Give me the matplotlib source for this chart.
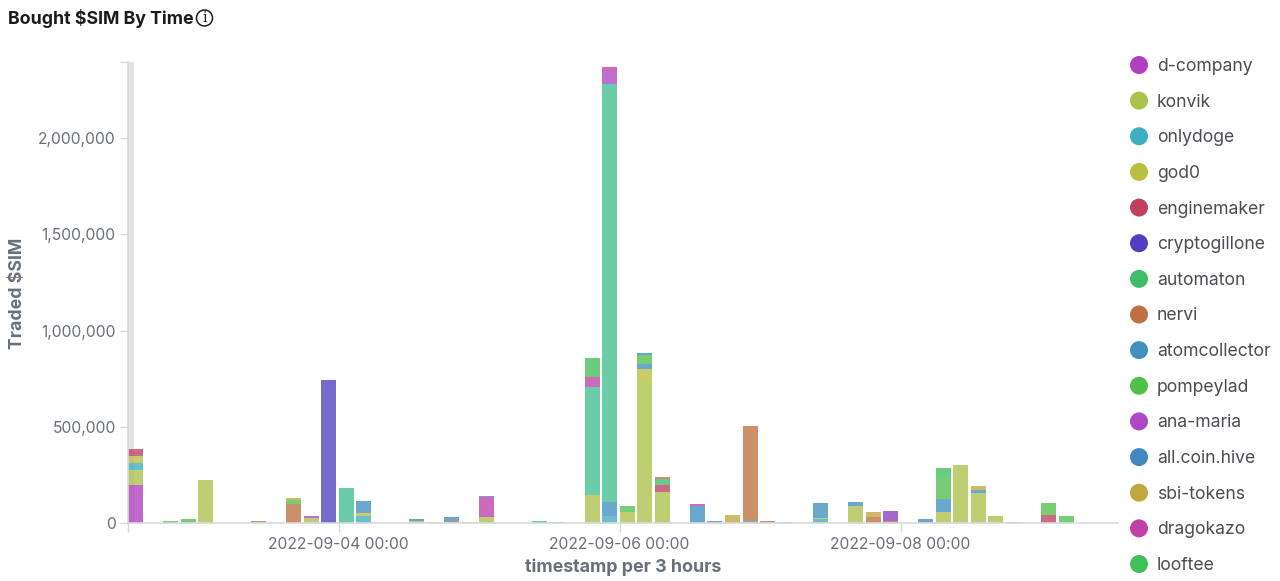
import matplotlib
matplotlib.use('Agg')
import matplotlib.pyplot as plt
import matplotlib.dates as mdates
import numpy as np
import pandas as pd
from matplotlib.patches import Circle

plt.rcParams['font.family'] = ['Inter', 'DejaVu Sans']

# bars that are present (3 hour buckets)
bar_times = [
    '2022-09-02 12:00', '2022-09-02 18:00', '2022-09-02 21:00', '2022-09-03 00:00', '2022-09-03 09:00',
    '2022-09-03 15:00', '2022-09-03 18:00', '2022-09-03 21:00', '2022-09-04 00:00', '2022-09-04 03:00',
    '2022-09-04 12:00', '2022-09-04 15:00', '2022-09-04 18:00', '2022-09-04 21:00', '2022-09-05 00:00',
    '2022-09-05 09:00', '2022-09-05 12:00', '2022-09-05 18:00', '2022-09-05 21:00', '2022-09-06 00:00',
    '2022-09-06 03:00', '2022-09-06 06:00', '2022-09-06 12:00', '2022-09-06 15:00', '2022-09-06 18:00',
    '2022-09-06 21:00', '2022-09-07 00:00', '2022-09-07 03:00', '2022-09-07 09:00', '2022-09-07 15:00',
    '2022-09-07 18:00', '2022-09-07 21:00', '2022-09-08 03:00', '2022-09-08 06:00', '2022-09-08 09:00',
    '2022-09-08 12:00', '2022-09-08 15:00', '2022-09-08 18:00', '2022-09-09 00:00', '2022-09-09 03:00',
]

# values in thousands of $SIM, one row of ten per line
d_company = [197, 0, 0, 0, 0, 0, 0, 0, 0, 0,
             0, 0, 0, 0, 0, 0, 0, 0, 0, 0,
             0, 0, 0, 0, 0, 0, 0, 0, 0, 0,
             0, 0, 0, 0, 0, 0, 0, 0, 0, 0]
konvik = [76, 0, 0, 222, 4, 0, 28, 0, 0, 0,
          10, 7, 6, 7, 33, 0, 0, 145, 0, 55,
          731, 159, 0, 0, 0, 0, 5, 0, 0, 90,
          0, 0, 0, 57, 301, 154, 35, 0, 0, 0]
onlydoge = [41, 0, 0, 0, 0, 0, 0, 0, 0, 35,
            0, 0, 0, 0, 0, 0, 0, 0, 38, 0,
            0, 0, 0, 0, 0, 12, 0, 0, 19, 0,
            0, 0, 0, 0, 0, 0, 0, 0, 0, 0]
god0 = [35, 0, 0, 0, 0, 0, 0, 0, 0, 16,
        0, 0, 0, 0, 0, 0, 0, 0, 0, 0,
        69, 0, 0, 0, 0, 0, 0, 0, 5, 0,
        0, 0, 0, 0, 0, 0, 0, 0, 0, 0]
enginemaker = [35, 0, 0, 0, 0, 0, 0, 0, 0, 0,
               0, 0, 0, 0, 0, 0, 0, 0, 0, 0,
               0, 40, 0, 0, 0, 0, 0, 0, 0, 0,
               0, 0, 0, 0, 0, 0, 0, 0, 40, 0]
cryptogillone = [0, 0, 0, 0, 0, 0, 0, 741, 0, 0,
                 0, 0, 0, 0, 0, 0, 0, 0, 0, 0,
                 0, 0, 0, 0, 0, 0, 0, 0, 0, 0,
                 0, 0, 0, 0, 0, 0, 0, 0, 0, 0]
automaton = [0, 0, 0, 0, 0, 0, 0, 0, 0, 0,
             0, 0, 0, 0, 0, 0, 0, 0, 0, 0,
             0, 31, 0, 0, 0, 0, 0, 0, 0, 0,
             0, 0, 0, 0, 0, 0, 0, 0, 0, 0]
nervi = [0, 0, 0, 0, 4, 97, 0, 0, 0, 0,
         0, 0, 6, 0, 0, 0, 0, 0, 0, 0,
         0, 10, 0, 6, 0, 490, 5, 0, 0, 0,
         29, 10, 0, 0, 0, 0, 0, 0, 0, 0]
atomcollector = [0, 0, 0, 0, 0, 0, 0, 0, 0, 61,
                 0, 0, 17, 0, 0, 0, 0, 0, 69, 0,
                 26, 0, 87, 6, 0, 0, 0, 0, 81, 17,
                 0, 0, 19, 68, 0, 19, 0, 0, 0, 0]
pompeylad = [0, 10, 22, 0, 0, 21, 0, 0, 0, 0,
             0, 0, 0, 0, 0, 0, 0, 0, 0, 35,
             48, 0, 0, 0, 0, 0, 0, 0, 0, 0,
             0, 0, 0, 105, 0, 0, 0, 0, 66, 38]
ana_maria = [0, 0, 0, 0, 0, 0, 10, 0, 0, 0,
             0, 0, 0, 0, 0, 0, 0, 0, 60, 0,
             0, 0, 0, 0, 0, 0, 0, 0, 0, 0,
             0, 0, 0, 0, 0, 0, 0, 0, 0, 0]
all_coin_hive = [0, 0, 0, 0, 0, 0, 0, 0, 0, 0,
                 12, 0, 0, 0, 7, 0, 0, 0, 0, 0,
                 7, 0, 0, 0, 0, 0, 0, 0, 0, 0,
                 0, 0, 0, 0, 0, 0, 0, 0, 0, 0]
sbi_tokens = [0, 0, 0, 0, 0, 10, 0, 0, 0, 0,
              0, 0, 0, 0, 0, 0, 0, 0, 0, 0,
              0, 0, 0, 0, 43, 0, 0, 0, 0, 0,
              26, 0, 0, 0, 0, 17, 0, 0, 0, 0]
dragokazo = [0, 0, 0, 0, 0, 0, 0, 0, 0, 0,
             0, 0, 0, 0, 100, 0, 0, 52, 26, 0,
             0, 0, 10, 0, 0, 0, 0, 0, 0, 0,
             0, 0, 0, 0, 0, 0, 0, 0, 0, 0]
looftee = [0, 0, 0, 0, 0, 0, 0, 0, 0, 0,
           0, 0, 0, 0, 0, 0, 0, 100, 0, 0,
           0, 0, 0, 0, 0, 0, 0, 0, 0, 0,
           0, 0, 0, 54, 0, 0, 0, 0, 0, 0]
# series scrolled out of the legend in the reference
unlisted_teal = [0, 0, 0, 0, 0, 0, 0, 0, 180, 0,
                 0, 0, 0, 0, 0, 8, 3, 559, 2175, 0,
                 0, 0, 0, 0, 0, 0, 0, 5, 0, 0,
                 0, 0, 0, 0, 0, 0, 0, 5, 0, 0]
unlisted_purple = [0, 0, 0, 0, 0, 0, 0, 0, 0, 0,
                   0, 0, 0, 0, 0, 0, 0, 0, 0, 0,
                   0, 0, 0, 0, 0, 0, 0, 0, 0, 0,
                   0, 50, 0, 0, 0, 0, 0, 0, 0, 0]

legend_names = ['d-company', 'konvik', 'onlydoge', 'god0', 'enginemaker', 'cryptogillone', 'automaton', 'nervi',
                'atomcollector', 'pompeylad', 'ana-maria', 'all.coin.hive', 'sbi-tokens', 'dragokazo', 'looftee']
colors = {'d-company': '#B03FC0', 'konvik': '#ABC24B', 'onlydoge': '#3FAEC0', 'god0': '#BBBE3F',
          'enginemaker': '#C04060', 'cryptogillone': '#5040C0', 'automaton': '#3DBD68', 'nervi': '#C07040',
          'atomcollector': '#4090C0', 'pompeylad': '#50C04A', 'ana-maria': '#AE47C6', 'all.coin.hive': '#4088C0',
          'sbi-tokens': '#C0A840', 'dragokazo': '#C040A8', 'looftee': '#40C058',
          'unlisted_teal': '#40C090', 'unlisted_purple': '#8A3CC4'}

# bottom to top
stack = [('d-company', d_company), ('konvik', konvik), ('onlydoge', onlydoge), ('god0', god0),
         ('enginemaker', enginemaker), ('cryptogillone', cryptogillone), ('automaton', automaton), ('nervi', nervi),
         ('atomcollector', atomcollector), ('pompeylad', pompeylad), ('sbi-tokens', sbi_tokens),
         ('unlisted_purple', unlisted_purple), ('unlisted_teal', unlisted_teal), ('ana-maria', ana_maria),
         ('dragokazo', dragokazo), ('all.coin.hive', all_coin_hive), ('looftee', looftee)]

W, H = 1280, 581
fig = plt.figure(figsize=(W / 100, H / 100), dpi=100, facecolor='white')
ax = fig.add_axes([128 / W, (H - 523) / H, 990 / W, 461 / H])

times = pd.to_datetime(bar_times)
x = mdates.date2num(times)
bucket = 3 / 24
start = mdates.date2num(pd.Timestamp('2022-09-02 12:00'))

# grey band at the start of the time axis
ax.axvspan(start, start + 1.1 / 24, color='#E2E2E2', lw=0, zorder=0)

bottom = np.zeros(len(x))
for name, vals in stack:
    vals = np.array(vals) * 1000.0
    ax.bar(x, vals, width=bucket * 0.855, bottom=bottom, align='edge', color=colors[name], alpha=0.78,
           linewidth=0, zorder=2)
    bottom += vals

ax.set_xlim(start, start + 990 / 17.56 * bucket)
ax.set_ylim(0, 2395000)

for s in ['top', 'right']:
    ax.spines[s].set_visible(False)
for s in ['left', 'bottom']:
    ax.spines[s].set_color('#D6D9DE')
    ax.spines[s].set_linewidth(1.2)

ax.set_yticks([0, 500000, 1000000, 1500000, 2000000, 2395000])
ax.set_yticklabels(['0', '500,000', '1,000,000', '1,500,000', '2,000,000', ''])
ax.set_xticks(mdates.date2num(pd.to_datetime(['2022-09-02 12:00', '2022-09-04 00:00', '2022-09-06 00:00', '2022-09-08 00:00'])))
ax.set_xticklabels(['', '2022-09-04 00:00', '2022-09-06 00:00', '2022-09-08 00:00'])
ax.tick_params(axis='x', length=6.5, width=1, color='#D6D9DE', labelcolor='#69707D', labelsize=11.3, pad=3.5)
ax.tick_params(axis='y', length=5.8, width=1, color='#D6D9DE', labelcolor='#69707D', labelsize=11.3, pad=3)

# overlay in pixel coordinates for title, axis titles and legend
ov = fig.add_axes([0, 0, 1, 1], facecolor='none')
ov.set_xlim(0, W)
ov.set_ylim(H, 0)
ov.axis('off')

ov.text(8, 18, 'Bought $SIM By Time', fontsize=12.75, fontweight='bold', color='#1A1C21', va='center', ha='left')
ov.add_patch(Circle((204.5, 18), 8, fill=False, edgecolor='#1A1C21', linewidth=1.1))
ov.text(204.5, 18, 'i', fontsize=10, family='DejaVu Serif', color='#1A1C21', ha='center', va='center')

ov.text(623, 567, 'timestamp per 3 hours', fontsize=12.85, fontweight='bold', color='#69707D', ha='center', va='center')
ov.text(18, 293, 'Traded $SIM', fontsize=12.75, fontweight='bold', color='#69707D', rotation=90, ha='center', va='center')

legend_y = np.linspace(65, 564, len(legend_names))
for name, y in zip(legend_names, legend_y):
    ov.add_patch(Circle((1139, y), 9, color=colors[name], lw=0))
    ov.text(1157, y + 1.5, name, fontsize=12.65, color='#4A4D55', va='center', ha='left')

fig.savefig('out.png', dpi=100)
